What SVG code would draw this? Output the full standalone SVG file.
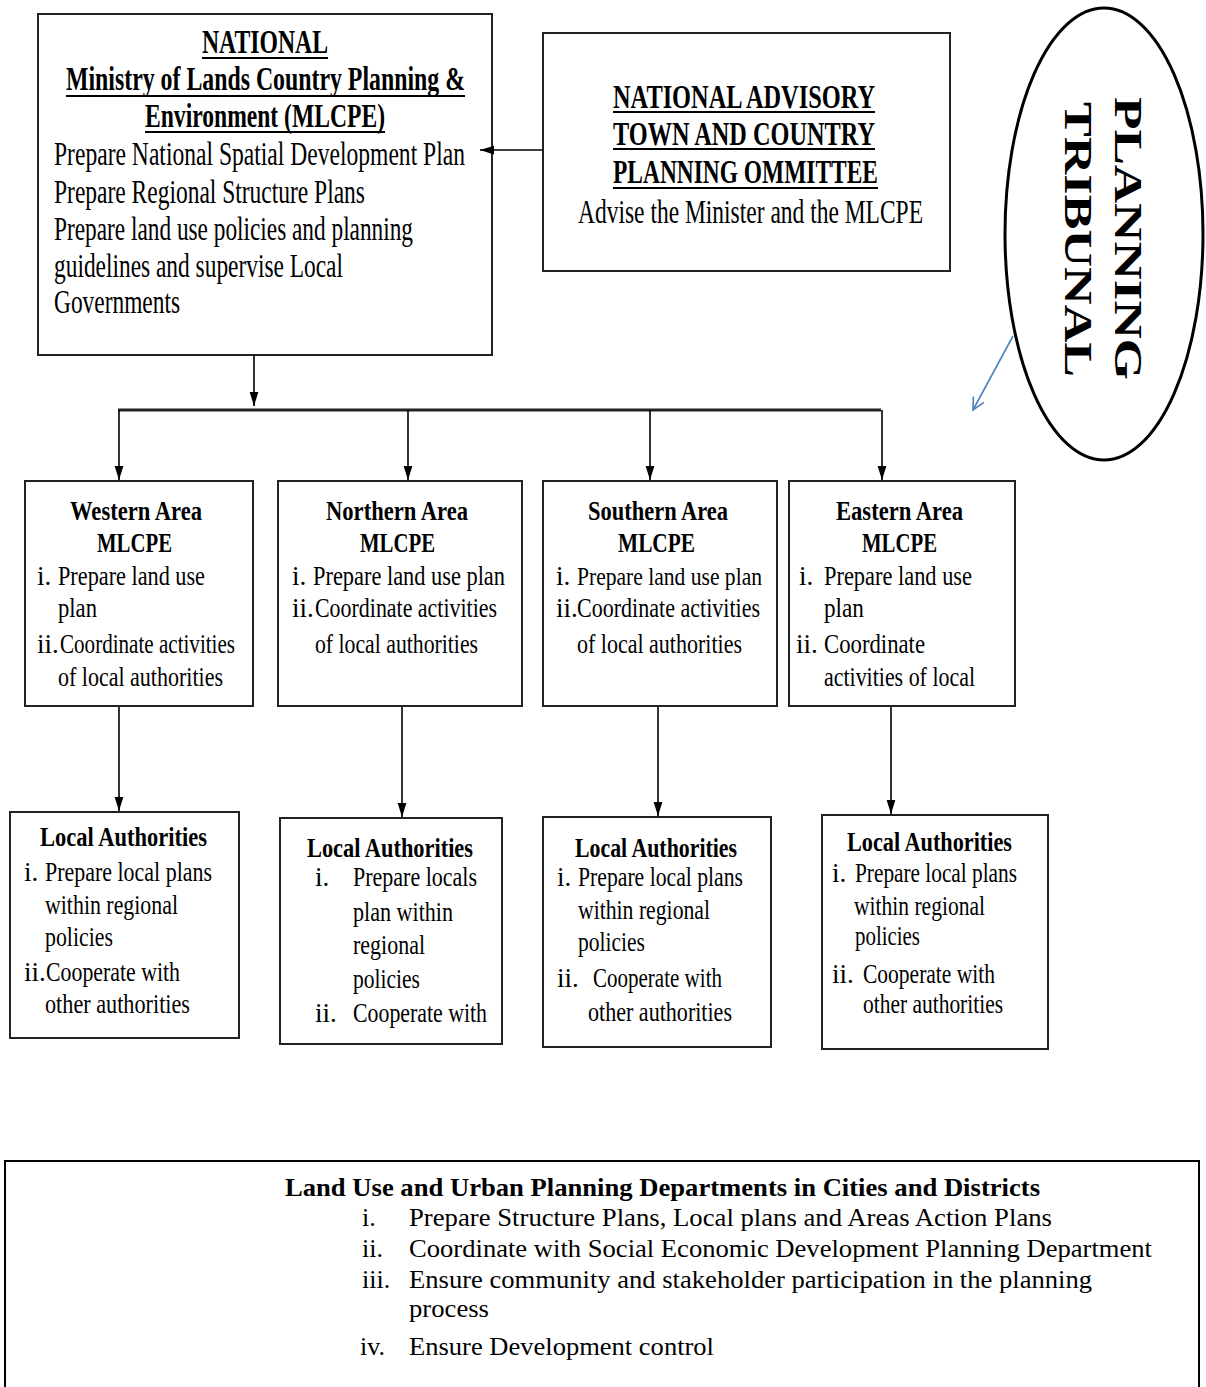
<svg xmlns="http://www.w3.org/2000/svg" width="1206" height="1387" viewBox="0 0 1206 1387">
<style>
.box{fill:#fff;stroke:#222;stroke-width:2}
.t{font-family:"Liberation Serif","Times New Roman",serif;fill:#000}
.n{font-size:33px}
.a{font-size:27px}
.b{font-weight:bold}
.ul{stroke:#000;stroke-width:2}
.c{stroke:#000;stroke-width:1.6;fill:none}
.bot{font-family:"Liberation Serif","Times New Roman",serif;font-size:26px;fill:#000}
</style>
<defs>
<marker id="ah" markerUnits="userSpaceOnUse" viewBox="0 0 16 10" refX="16" refY="5" markerWidth="14" markerHeight="10" orient="auto">
<path d="M0,0 L16,5 L0,10 z" fill="#000"/>
</marker>
<marker id="ob" markerUnits="userSpaceOnUse" viewBox="0 0 16 16" refX="14" refY="8" markerWidth="16" markerHeight="16" orient="auto">
<path d="M2,2 L14,8 L2,14" fill="none" stroke="#4f81bd" stroke-width="1.6"/>
</marker>
</defs>
<rect width="1206" height="1387" fill="#fff"/>

<g id="national">
<rect class="box" x="38" y="14" width="454" height="341"/>
<text class="t n b" x="202" y="53" textLength="126" lengthAdjust="spacingAndGlyphs">NATIONAL</text>
<line class="ul" x1="202" y1="58" x2="328" y2="58"/>
<text class="t n b" x="66" y="90" textLength="399" lengthAdjust="spacingAndGlyphs">Ministry of Lands Country Planning &amp;</text>
<line class="ul" x1="66" y1="96" x2="465" y2="96"/>
<text class="t n b" x="145" y="127" textLength="240" lengthAdjust="spacingAndGlyphs">Environment (MLCPE)</text>
<line class="ul" x1="145" y1="132" x2="385" y2="132"/>
<text class="t n" x="54" y="165" textLength="411" lengthAdjust="spacingAndGlyphs">Prepare National Spatial Development Plan</text>
<text class="t n" x="54" y="203" textLength="311" lengthAdjust="spacingAndGlyphs">Prepare Regional Structure Plans</text>
<text class="t n" x="54" y="240" textLength="359" lengthAdjust="spacingAndGlyphs">Prepare land use policies and planning</text>
<text class="t n" x="54" y="277" textLength="289" lengthAdjust="spacingAndGlyphs">guidelines and supervise Local</text>
<text class="t n" x="54" y="313" textLength="126" lengthAdjust="spacingAndGlyphs">Governments</text>
</g>

<g id="advisory">
<rect class="box" x="543" y="33" width="407" height="238"/>
<text class="t n b" x="613" y="108" textLength="262" lengthAdjust="spacingAndGlyphs">NATIONAL ADVISORY</text>
<line class="ul" x1="613" y1="112" x2="875" y2="112"/>
<text class="t n b" x="613" y="145" textLength="262" lengthAdjust="spacingAndGlyphs">TOWN AND COUNTRY</text>
<line class="ul" x1="613" y1="149" x2="875" y2="149"/>
<text class="t n b" x="613" y="183" textLength="265" lengthAdjust="spacingAndGlyphs">PLANNING OMMITTEE</text>
<line class="ul" x1="613" y1="188" x2="878" y2="188"/>
<text class="t n" x="578" y="223" textLength="345" lengthAdjust="spacingAndGlyphs">Advise the Minister and the MLCPE</text>
</g>

<g id="tribunal">
<ellipse cx="1104" cy="234" rx="99" ry="226" fill="none" stroke="#000" stroke-width="3"/>
<text class="t b" font-size="41" x="1115" y="97" transform="rotate(90 1115 97)" textLength="283" lengthAdjust="spacingAndGlyphs">PLANNING</text>
<text class="t b" font-size="41" x="1065" y="102" transform="rotate(90 1065 102)" textLength="275" lengthAdjust="spacingAndGlyphs">TRIBUNAL</text>
</g>

<g id="western">
<rect class="box" x="25" y="481" width="228" height="225"/>
<text class="t a b" x="70" y="520" textLength="132" lengthAdjust="spacingAndGlyphs">Western Area</text>
<text class="t a b" x="97" y="552" textLength="75" lengthAdjust="spacingAndGlyphs">MLCPE</text>
<text class="t a" x="37" y="585">i.</text>
<text class="t a" x="58" y="585" textLength="147" lengthAdjust="spacingAndGlyphs">Prepare land use</text>
<text class="t a" x="58" y="617" textLength="39" lengthAdjust="spacingAndGlyphs">plan</text>
<text class="t a" x="37" y="653">ii.</text>
<text class="t a" x="60" y="653" textLength="175" lengthAdjust="spacingAndGlyphs">Coordinate activities</text>
<text class="t a" x="58" y="686" textLength="165" lengthAdjust="spacingAndGlyphs">of local authorities</text>
</g>

<g id="northern">
<rect class="box" x="278" y="481" width="244" height="225"/>
<text class="t a b" x="326" y="520" textLength="142" lengthAdjust="spacingAndGlyphs">Northern Area</text>
<text class="t a b" x="360" y="552" textLength="75" lengthAdjust="spacingAndGlyphs">MLCPE</text>
<text class="t a" x="292" y="585">i.</text>
<text class="t a" x="313" y="585" textLength="192" lengthAdjust="spacingAndGlyphs">Prepare land use plan</text>
<text class="t a" x="292" y="617">ii.</text>
<text class="t a" x="315" y="617" textLength="182" lengthAdjust="spacingAndGlyphs">Coordinate activities</text>
<text class="t a" x="315" y="653" textLength="163" lengthAdjust="spacingAndGlyphs">of local authorities</text>
</g>

<g id="southern">
<rect class="box" x="543" y="481" width="234" height="225"/>
<text class="t a b" x="588" y="520" textLength="140" lengthAdjust="spacingAndGlyphs">Southern Area</text>
<text class="t a b" x="618" y="552" textLength="77" lengthAdjust="spacingAndGlyphs">MLCPE</text>
<text class="t a" x="556" y="585">i.</text>
<text class="t" font-size="25" x="577" y="585" textLength="185" lengthAdjust="spacingAndGlyphs">Prepare land use plan</text>
<text class="t a" x="556" y="617">ii.</text>
<text class="t a" x="577" y="617" textLength="183" lengthAdjust="spacingAndGlyphs">Coordinate activities</text>
<text class="t a" x="577" y="653" textLength="165" lengthAdjust="spacingAndGlyphs">of local authorities</text>
</g>

<g id="eastern">
<rect class="box" x="789" y="481" width="226" height="225"/>
<text class="t a b" x="836" y="520" textLength="127" lengthAdjust="spacingAndGlyphs">Eastern Area</text>
<text class="t a b" x="862" y="552" textLength="75" lengthAdjust="spacingAndGlyphs">MLCPE</text>
<text class="t a" x="799" y="585">i.</text>
<text class="t a" x="824" y="585" textLength="148" lengthAdjust="spacingAndGlyphs">Prepare land use</text>
<text class="t a" x="824" y="617" textLength="40" lengthAdjust="spacingAndGlyphs">plan</text>
<text class="t a" x="796" y="653">ii.</text>
<text class="t a" x="824" y="653" textLength="101" lengthAdjust="spacingAndGlyphs">Coordinate</text>
<text class="t a" x="824" y="686" textLength="151" lengthAdjust="spacingAndGlyphs">activities of local</text>
</g>

<g id="local-western">
<rect class="box" x="10" y="812" width="229" height="226"/>
<text class="t a b" x="40" y="846" textLength="167" lengthAdjust="spacingAndGlyphs">Local Authorities</text>
<text class="t a" x="24" y="881">i.</text>
<text class="t a" x="45" y="881" textLength="167" lengthAdjust="spacingAndGlyphs">Prepare local plans</text>
<text class="t a" x="45" y="914" textLength="133" lengthAdjust="spacingAndGlyphs">within regional</text>
<text class="t a" x="45" y="946" textLength="68" lengthAdjust="spacingAndGlyphs">policies</text>
<text class="t a" x="24" y="981">ii.</text>
<text class="t a" x="46" y="981" textLength="134" lengthAdjust="spacingAndGlyphs">Cooperate with</text>
<text class="t a" x="45" y="1013" textLength="145" lengthAdjust="spacingAndGlyphs">other authorities</text>
</g>

<g id="local-northern">
<rect class="box" x="280" y="818" width="222" height="226"/>
<text class="t a b" x="307" y="857" textLength="166" lengthAdjust="spacingAndGlyphs">Local Authorities</text>
<text class="t a" x="315" y="886">i.</text>
<text class="t a" x="353" y="886" textLength="124" lengthAdjust="spacingAndGlyphs">Prepare locals</text>
<text class="t a" x="353" y="921" textLength="100" lengthAdjust="spacingAndGlyphs">plan within</text>
<text class="t a" x="353" y="954" textLength="72" lengthAdjust="spacingAndGlyphs">regional</text>
<text class="t a" x="353" y="988" textLength="67" lengthAdjust="spacingAndGlyphs">policies</text>
<text class="t a" x="315" y="1022">ii.</text>
<text class="t a" x="353" y="1022" textLength="134" lengthAdjust="spacingAndGlyphs">Cooperate with</text>
</g>

<g id="local-southern">
<rect class="box" x="543" y="817" width="228" height="230"/>
<text class="t a b" x="575" y="857" textLength="162" lengthAdjust="spacingAndGlyphs">Local Authorities</text>
<text class="t a" x="557" y="886">i.</text>
<text class="t a" x="578" y="886" textLength="165" lengthAdjust="spacingAndGlyphs">Prepare local plans</text>
<text class="t a" x="578" y="919" textLength="132" lengthAdjust="spacingAndGlyphs">within regional</text>
<text class="t a" x="578" y="951" textLength="67" lengthAdjust="spacingAndGlyphs">policies</text>
<text class="t a" x="557" y="987">ii.</text>
<text class="t a" x="593" y="987" textLength="129" lengthAdjust="spacingAndGlyphs">Cooperate with</text>
<text class="t a" x="588" y="1021" textLength="144" lengthAdjust="spacingAndGlyphs">other authorities</text>
</g>

<g id="local-eastern">
<rect class="box" x="822" y="815" width="226" height="234"/>
<text class="t a b" x="847" y="851" textLength="165" lengthAdjust="spacingAndGlyphs">Local Authorities</text>
<text class="t a" x="832" y="882">i.</text>
<text class="t a" x="855" y="882" textLength="162" lengthAdjust="spacingAndGlyphs">Prepare local plans</text>
<text class="t a" x="854" y="915" textLength="131" lengthAdjust="spacingAndGlyphs">within regional</text>
<text class="t a" x="855" y="945" textLength="65" lengthAdjust="spacingAndGlyphs">policies</text>
<text class="t a" x="832" y="983">ii.</text>
<text class="t a" x="863" y="983" textLength="132" lengthAdjust="spacingAndGlyphs">Cooperate with</text>
<text class="t a" x="863" y="1013" textLength="140" lengthAdjust="spacingAndGlyphs">other authorities</text>
</g>

<g id="departments">
<rect x="5" y="1161" width="1194" height="240" fill="#fff" stroke="#000" stroke-width="2"/>
<text class="bot" font-weight="bold" x="285" y="1196" textLength="755" lengthAdjust="spacingAndGlyphs">Land Use and Urban Planning Departments in Cities and Districts</text>
<text class="bot" x="362" y="1226">i.</text>
<text class="bot" x="409" y="1226" textLength="643" lengthAdjust="spacingAndGlyphs">Prepare Structure Plans, Local plans and Areas Action Plans</text>
<text class="bot" x="362" y="1257">ii.</text>
<text class="bot" x="409" y="1257" textLength="743" lengthAdjust="spacingAndGlyphs">Coordinate with Social Economic Development Planning Department</text>
<text class="bot" x="362" y="1288">iii.</text>
<text class="bot" x="409" y="1288" textLength="683" lengthAdjust="spacingAndGlyphs">Ensure community and stakeholder participation in the planning</text>
<text class="bot" x="409" y="1317" textLength="80" lengthAdjust="spacingAndGlyphs">process</text>
<text class="bot" font-size="29" x="360" y="1355">iv.</text>
<text class="bot" x="409" y="1355" textLength="305" lengthAdjust="spacingAndGlyphs">Ensure Development control</text>
</g>

<g id="connectors">
<line class="c" x1="543" y1="150" x2="480" y2="150" marker-end="url(#ah)"/>
<line class="c" x1="254" y1="355" x2="254" y2="406" marker-end="url(#ah)"/>
<line x1="118" y1="410" x2="881" y2="410" stroke="#222" stroke-width="3"/>
<line class="c" x1="119" y1="410" x2="119" y2="480" marker-end="url(#ah)"/>
<line class="c" x1="408" y1="410" x2="408" y2="480" marker-end="url(#ah)"/>
<line class="c" x1="650" y1="410" x2="650" y2="480" marker-end="url(#ah)"/>
<line class="c" x1="882" y1="410" x2="882" y2="480" marker-end="url(#ah)"/>
<line class="c" x1="119" y1="707" x2="119" y2="811" marker-end="url(#ah)"/>
<line class="c" x1="402" y1="707" x2="402" y2="817" marker-end="url(#ah)"/>
<line class="c" x1="658" y1="707" x2="658" y2="816" marker-end="url(#ah)"/>
<line class="c" x1="891" y1="707" x2="891" y2="814" marker-end="url(#ah)"/>
<line x1="1013" y1="336" x2="973" y2="410" stroke="#4f81bd" stroke-width="1.6" marker-end="url(#ob)"/>
</g>
</svg>
